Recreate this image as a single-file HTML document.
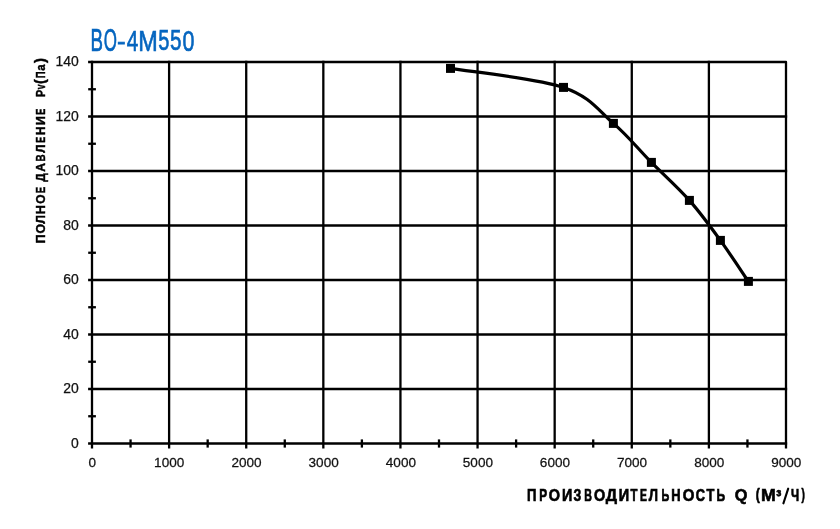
<!DOCTYPE html>
<html><head><meta charset="utf-8"><style>
html,body{margin:0;padding:0;background:#fff;width:840px;height:529px;overflow:hidden}
svg{display:block;will-change:transform}
text{font-family:"Liberation Sans",sans-serif;white-space:pre}
</style></head><body>
<svg width="840" height="529" viewBox="0 0 840 529">
<rect width="840" height="529" fill="#fff"/>
<g stroke="#000" stroke-width="2.3" stroke-linecap="butt">
<line x1="92.00" y1="60.85" x2="92.00" y2="448.60"/>
<line x1="169.11" y1="60.85" x2="169.11" y2="448.60"/>
<line x1="246.22" y1="60.85" x2="246.22" y2="448.60"/>
<line x1="323.33" y1="60.85" x2="323.33" y2="448.60"/>
<line x1="400.44" y1="60.85" x2="400.44" y2="448.60"/>
<line x1="477.56" y1="60.85" x2="477.56" y2="448.60"/>
<line x1="554.67" y1="60.85" x2="554.67" y2="448.60"/>
<line x1="631.78" y1="60.85" x2="631.78" y2="448.60"/>
<line x1="708.89" y1="60.85" x2="708.89" y2="448.60"/>
<line x1="130.56" y1="439.40" x2="130.56" y2="447.60"/>
<line x1="207.67" y1="439.40" x2="207.67" y2="447.60"/>
<line x1="284.78" y1="439.40" x2="284.78" y2="447.60"/>
<line x1="361.89" y1="439.40" x2="361.89" y2="447.60"/>
<line x1="439.00" y1="439.40" x2="439.00" y2="447.60"/>
<line x1="516.11" y1="439.40" x2="516.11" y2="447.60"/>
<line x1="593.22" y1="439.40" x2="593.22" y2="447.60"/>
<line x1="670.33" y1="439.40" x2="670.33" y2="447.60"/>
<line x1="747.44" y1="439.40" x2="747.44" y2="447.60"/>
<line x1="88.10" y1="443.50" x2="787.15" y2="443.50"/>
<line x1="88.10" y1="389.00" x2="787.15" y2="389.00"/>
<line x1="88.10" y1="334.50" x2="787.15" y2="334.50"/>
<line x1="88.10" y1="280.00" x2="787.15" y2="280.00"/>
<line x1="88.10" y1="225.50" x2="787.15" y2="225.50"/>
<line x1="88.10" y1="171.00" x2="787.15" y2="171.00"/>
<line x1="88.10" y1="116.50" x2="787.15" y2="116.50"/>
<line x1="88.20" y1="416.25" x2="95.90" y2="416.25"/>
<line x1="88.20" y1="361.75" x2="95.90" y2="361.75"/>
<line x1="88.20" y1="307.25" x2="95.90" y2="307.25"/>
<line x1="88.20" y1="252.75" x2="95.90" y2="252.75"/>
<line x1="88.20" y1="198.25" x2="95.90" y2="198.25"/>
<line x1="88.20" y1="143.75" x2="95.90" y2="143.75"/>
<line x1="88.20" y1="89.25" x2="95.90" y2="89.25"/>
<path d="M88.10 62.00 L786.00 62.00 L786.00 448.60" fill="none" stroke-linejoin="round"/>
</g>
<path d="M450.5 68.4 C469.3 71.6 536.4 78.2 563.5 87.4 C590.6 96.6 598.8 110.9 613.4 123.4 C628.0 135.9 638.7 149.6 651.4 162.4 C664.1 175.2 677.9 187.4 689.4 200.4 C700.9 213.4 710.6 226.9 720.4 240.4 C730.2 253.9 743.7 274.6 748.4 281.4" fill="none" stroke="#000" stroke-width="3.2" stroke-linejoin="round"/>
<g fill="#000">
<rect x="446.0" y="63.9" width="9" height="9"/>
<rect x="559.0" y="82.9" width="9" height="9"/>
<rect x="608.9" y="118.9" width="9" height="9"/>
<rect x="646.9" y="157.9" width="9" height="9"/>
<rect x="684.9" y="195.9" width="9" height="9"/>
<rect x="715.9" y="235.9" width="9" height="9"/>
<rect x="743.9" y="276.9" width="9" height="9"/>
</g>
<g font-size="100" fill="#111">
<text x="0" y="0" stroke="#111" stroke-width="0.25" vector-effect="non-scaling-stroke" transform="matrix(0.13950 0 0 0.13944 70.946 447.811)">0</text><text x="0" y="0" stroke="#111" stroke-width="0.25" vector-effect="non-scaling-stroke" transform="matrix(0.13950 0 0 0.13944 63.273 393.311)">20</text><text x="0" y="0" stroke="#111" stroke-width="0.25" vector-effect="non-scaling-stroke" transform="matrix(0.13950 0 0 0.13944 63.273 338.811)">40</text><text x="0" y="0" stroke="#111" stroke-width="0.25" vector-effect="non-scaling-stroke" transform="matrix(0.13950 0 0 0.13944 63.273 284.311)">60</text><text x="0" y="0" stroke="#111" stroke-width="0.25" vector-effect="non-scaling-stroke" transform="matrix(0.13950 0 0 0.13944 63.273 229.811)">80</text><text x="0" y="0" stroke="#111" stroke-width="0.25" vector-effect="non-scaling-stroke" transform="matrix(0.13950 0 0 0.13944 55.462 175.311)">100</text><text x="0" y="0" stroke="#111" stroke-width="0.25" vector-effect="non-scaling-stroke" transform="matrix(0.13950 0 0 0.13944 55.462 120.811)">120</text><text x="0" y="0" stroke="#111" stroke-width="0.25" vector-effect="non-scaling-stroke" transform="matrix(0.13950 0 0 0.13944 55.462 66.311)">140</text>
<text x="0" y="0" stroke="#111" stroke-width="0.25" vector-effect="non-scaling-stroke" transform="matrix(0.13559 0 0 0.13662 88.503 467.163)">0</text><text x="0" y="0" stroke="#111" stroke-width="0.25" vector-effect="non-scaling-stroke" transform="matrix(0.13559 0 0 0.13662 154.089 467.163)">1000</text><text x="0" y="0" stroke="#111" stroke-width="0.25" vector-effect="non-scaling-stroke" transform="matrix(0.13559 0 0 0.13662 231.403 467.163)">2000</text><text x="0" y="0" stroke="#111" stroke-width="0.25" vector-effect="non-scaling-stroke" transform="matrix(0.13559 0 0 0.13662 308.582 467.163)">3000</text><text x="0" y="0" stroke="#111" stroke-width="0.25" vector-effect="non-scaling-stroke" transform="matrix(0.13559 0 0 0.13662 385.829 467.163)">4000</text><text x="0" y="0" stroke="#111" stroke-width="0.25" vector-effect="non-scaling-stroke" transform="matrix(0.13559 0 0 0.13662 462.805 467.163)">5000</text><text x="0" y="0" stroke="#111" stroke-width="0.25" vector-effect="non-scaling-stroke" transform="matrix(0.13559 0 0 0.13662 539.848 467.163)">6000</text><text x="0" y="0" stroke="#111" stroke-width="0.25" vector-effect="non-scaling-stroke" transform="matrix(0.13559 0 0 0.13662 616.959 467.163)">7000</text><text x="0" y="0" stroke="#111" stroke-width="0.25" vector-effect="non-scaling-stroke" transform="matrix(0.13559 0 0 0.13662 694.138 467.163)">8000</text><text x="0" y="0" stroke="#111" stroke-width="0.25" vector-effect="non-scaling-stroke" transform="matrix(0.13559 0 0 0.13662 771.181 467.163)">9000</text>
</g>
<text x="0" y="0" font-size="100" font-weight="normal" fill="#0565bf" stroke="#0565bf" stroke-width="0.6" vector-effect="non-scaling-stroke" transform="matrix(0.18679 0 0 0.30725 90.506 50.600)">В</text>
<text x="0" y="0" font-size="100" font-weight="normal" fill="#0565bf" stroke="#0565bf" stroke-width="0.6" vector-effect="non-scaling-stroke" transform="matrix(0.16912 0 0 0.30704 103.754 50.593)">О</text>
<text x="0" y="0" font-size="100" font-weight="normal" fill="#0565bf" stroke="#0565bf" stroke-width="0.6" vector-effect="non-scaling-stroke" transform="matrix(0.11964 0 0 0.27143 118.000 49.671)">–</text>
<text x="0" y="0" font-size="100" font-weight="normal" fill="#0565bf" stroke="#0565bf" stroke-width="0.6" vector-effect="non-scaling-stroke" transform="matrix(0.20784 0 0 0.30294 126.684 50.903)">4</text>
<text x="0" y="0" font-size="100" font-weight="normal" fill="#0565bf" stroke="#0565bf" stroke-width="0.6" vector-effect="non-scaling-stroke" transform="matrix(0.23433 0 0 0.30290 138.225 50.600)">М</text>
<text x="0" y="0" font-size="100" font-weight="normal" fill="#0565bf" stroke="#0565bf" stroke-width="0.6" vector-effect="non-scaling-stroke" transform="matrix(0.20000 0 0 0.29429 158.300 50.306)">5</text>
<text x="0" y="0" font-size="100" font-weight="normal" fill="#0565bf" stroke="#0565bf" stroke-width="0.6" vector-effect="non-scaling-stroke" transform="matrix(0.20638 0 0 0.29429 170.074 50.306)">5</text>
<text x="0" y="0" font-size="100" font-weight="normal" fill="#0565bf" stroke="#0565bf" stroke-width="0.6" vector-effect="non-scaling-stroke" transform="matrix(0.21458 0 0 0.29437 182.442 50.606)">0</text>
<text x="0" y="0" font-size="100" font-weight="bold" fill="#000" stroke="#000" stroke-width="0.4" vector-effect="non-scaling-stroke" transform="matrix(0 -0.12759 0.12464 0 44.800 243.593)">П</text>
<text x="0" y="0" font-size="100" font-weight="bold" fill="#000" stroke="#000" stroke-width="0.4" vector-effect="non-scaling-stroke" transform="matrix(0 -0.12429 0.12464 0 44.800 233.597)">О</text>
<text x="0" y="0" font-size="100" font-weight="bold" fill="#000" stroke="#000" stroke-width="0.4" vector-effect="non-scaling-stroke" transform="matrix(0 -0.12381 0.12464 0 44.800 223.700)">Л</text>
<text x="0" y="0" font-size="100" font-weight="bold" fill="#000" stroke="#000" stroke-width="0.4" vector-effect="non-scaling-stroke" transform="matrix(0 -0.12241 0.12464 0 44.800 213.957)">Н</text>
<text x="0" y="0" font-size="100" font-weight="bold" fill="#000" stroke="#000" stroke-width="0.4" vector-effect="non-scaling-stroke" transform="matrix(0 -0.12000 0.12464 0 44.800 203.680)">О</text>
<text x="0" y="0" font-size="100" font-weight="bold" fill="#000" stroke="#000" stroke-width="0.4" vector-effect="non-scaling-stroke" transform="matrix(0 -0.09643 0.12464 0 44.800 193.275)">Е</text>
<text x="0" y="0" font-size="100" font-weight="bold" fill="#000" stroke="#000" stroke-width="0.4" vector-effect="non-scaling-stroke" transform="matrix(0 -0.12059 0.12464 0 44.800 181.721)">Д</text>
<text x="0" y="0" font-size="100" font-weight="bold" fill="#000" stroke="#000" stroke-width="0.4" vector-effect="non-scaling-stroke" transform="matrix(0 -0.12273 0.12464 0 44.800 171.868)">А</text>
<text x="0" y="0" font-size="100" font-weight="bold" fill="#000" stroke="#000" stroke-width="0.4" vector-effect="non-scaling-stroke" transform="matrix(0 -0.09836 0.12464 0 44.800 161.589)">В</text>
<text x="0" y="0" font-size="100" font-weight="bold" fill="#000" stroke="#000" stroke-width="0.4" vector-effect="non-scaling-stroke" transform="matrix(0 -0.11746 0.12464 0 44.800 152.700)">Л</text>
<text x="0" y="0" font-size="100" font-weight="bold" fill="#000" stroke="#000" stroke-width="0.4" vector-effect="non-scaling-stroke" transform="matrix(0 -0.08929 0.12464 0 44.800 142.825)">Е</text>
<text x="0" y="0" font-size="100" font-weight="bold" fill="#000" stroke="#000" stroke-width="0.4" vector-effect="non-scaling-stroke" transform="matrix(0 -0.11724 0.12464 0 44.800 135.121)">Н</text>
<text x="0" y="0" font-size="100" font-weight="bold" fill="#000" stroke="#000" stroke-width="0.4" vector-effect="non-scaling-stroke" transform="matrix(0 -0.12759 0.12464 0 44.800 125.293)">И</text>
<text x="0" y="0" font-size="100" font-weight="bold" fill="#000" stroke="#000" stroke-width="0.4" vector-effect="non-scaling-stroke" transform="matrix(0 -0.09107 0.12464 0 44.800 114.838)">Е</text>
<text x="0" y="0" font-size="100" font-weight="bold" fill="#000" stroke="#000" stroke-width="0.4" vector-effect="non-scaling-stroke" transform="matrix(0 -0.10714 0.12464 0 44.800 97.050)">P</text>
<text x="0" y="0" font-size="100" font-weight="bold" fill="#000" stroke="#000" stroke-width="0.4" vector-effect="non-scaling-stroke" transform="matrix(0 -0.08704 0.12464 0 44.800 89.187)">v</text>
<text x="0" y="0" font-size="100" font-weight="bold" fill="#000" stroke="#000" stroke-width="0.4" vector-effect="non-scaling-stroke" transform="matrix(0 -0.14286 0.13936 0 45.173 83.914)">(</text>
<text x="0" y="0" font-size="100" font-weight="bold" fill="#000" stroke="#000" stroke-width="0.4" vector-effect="non-scaling-stroke" transform="matrix(0 -0.09483 0.12464 0 44.800 78.264)">П</text>
<text x="0" y="0" font-size="100" font-weight="bold" fill="#000" stroke="#000" stroke-width="0.4" vector-effect="non-scaling-stroke" transform="matrix(0 -0.11321 0.12464 0 44.800 70.840)">а</text>
<text x="0" y="0" font-size="100" font-weight="bold" fill="#000" stroke="#000" stroke-width="0.4" vector-effect="non-scaling-stroke" transform="matrix(0 -0.15357 0.13936 0 45.173 62.900)">)</text>
<text x="0" y="0" font-size="100" font-weight="bold" fill="#000" stroke="#000" stroke-width="0.6" vector-effect="non-scaling-stroke" transform="matrix(0.13103 0 0 0.15652 526.983 500.600)">П</text>
<text x="0" y="0" font-size="100" font-weight="bold" fill="#000" stroke="#000" stroke-width="0.6" vector-effect="non-scaling-stroke" transform="matrix(0.11786 0 0 0.15652 539.175 500.600)">Р</text>
<text x="0" y="0" font-size="100" font-weight="bold" fill="#000" stroke="#000" stroke-width="0.6" vector-effect="non-scaling-stroke" transform="matrix(0.14429 0 0 0.15652 548.723 500.600)">О</text>
<text x="0" y="0" font-size="100" font-weight="bold" fill="#000" stroke="#000" stroke-width="0.6" vector-effect="non-scaling-stroke" transform="matrix(0.14310 0 0 0.15652 561.898 500.600)">И</text>
<text x="0" y="0" font-size="100" font-weight="bold" fill="#000" stroke="#000" stroke-width="0.6" vector-effect="non-scaling-stroke" transform="matrix(0.12364 0 0 0.15652 573.529 500.600)">З</text>
<text x="0" y="0" font-size="100" font-weight="bold" fill="#000" stroke="#000" stroke-width="0.6" vector-effect="non-scaling-stroke" transform="matrix(0.10656 0 0 0.15652 584.354 500.600)">В</text>
<text x="0" y="0" font-size="100" font-weight="bold" fill="#000" stroke="#000" stroke-width="0.6" vector-effect="non-scaling-stroke" transform="matrix(0.14429 0 0 0.15652 594.123 500.600)">О</text>
<text x="0" y="0" font-size="100" font-weight="bold" fill="#000" stroke="#000" stroke-width="0.6" vector-effect="non-scaling-stroke" transform="matrix(0.15882 0 0 0.15652 605.641 500.600)">Д</text>
<text x="0" y="0" font-size="100" font-weight="bold" fill="#000" stroke="#000" stroke-width="0.6" vector-effect="non-scaling-stroke" transform="matrix(0.14483 0 0 0.15652 618.686 500.600)">И</text>
<text x="0" y="0" font-size="100" font-weight="bold" fill="#000" stroke="#000" stroke-width="0.6" vector-effect="non-scaling-stroke" transform="matrix(0.11356 0 0 0.15652 630.486 500.600)">Т</text>
<text x="0" y="0" font-size="100" font-weight="bold" fill="#000" stroke="#000" stroke-width="0.6" vector-effect="non-scaling-stroke" transform="matrix(0.10357 0 0 0.15652 640.075 500.600)">Е</text>
<text x="0" y="0" font-size="100" font-weight="bold" fill="#000" stroke="#000" stroke-width="0.6" vector-effect="non-scaling-stroke" transform="matrix(0.13175 0 0 0.15652 648.700 500.600)">Л</text>
<text x="0" y="0" font-size="100" font-weight="bold" fill="#000" stroke="#000" stroke-width="0.6" vector-effect="non-scaling-stroke" transform="matrix(0.10820 0 0 0.15652 661.443 500.600)">Ь</text>
<text x="0" y="0" font-size="100" font-weight="bold" fill="#000" stroke="#000" stroke-width="0.6" vector-effect="non-scaling-stroke" transform="matrix(0.12931 0 0 0.15652 671.295 500.600)">Н</text>
<text x="0" y="0" font-size="100" font-weight="bold" fill="#000" stroke="#000" stroke-width="0.6" vector-effect="non-scaling-stroke" transform="matrix(0.15000 0 0 0.15652 682.800 500.600)">О</text>
<text x="0" y="0" font-size="100" font-weight="bold" fill="#000" stroke="#000" stroke-width="0.6" vector-effect="non-scaling-stroke" transform="matrix(0.12769 0 0 0.15652 695.789 500.600)">С</text>
<text x="0" y="0" font-size="100" font-weight="bold" fill="#000" stroke="#000" stroke-width="0.6" vector-effect="non-scaling-stroke" transform="matrix(0.12881 0 0 0.15652 706.571 500.600)">Т</text>
<text x="0" y="0" font-size="100" font-weight="bold" fill="#000" stroke="#000" stroke-width="0.6" vector-effect="non-scaling-stroke" transform="matrix(0.11967 0 0 0.15652 716.562 500.600)">Ь</text>
<text x="0" y="0" font-size="100" font-weight="bold" fill="#000" stroke="#000" stroke-width="0.6" vector-effect="non-scaling-stroke" transform="matrix(0.16286 0 0 0.15652 734.749 500.600)">Q</text>
<text x="0" y="0" font-size="100" font-weight="bold" fill="#000" stroke="#000" stroke-width="0.6" vector-effect="non-scaling-stroke" transform="matrix(0.12143 0 0 0.15745 755.693 500.094)">(</text>
<text x="0" y="0" font-size="100" font-weight="bold" fill="#000" stroke="#000" stroke-width="0.6" vector-effect="non-scaling-stroke" transform="matrix(0.17714 0 0 0.15652 761.060 500.600)">М</text>
<text x="0" y="0" font-size="100" font-weight="bold" fill="#000" stroke="#000" stroke-width="0.6" vector-effect="non-scaling-stroke" transform="matrix(0.15172 0 0 0.17778 776.297 501.567)">³</text>
<text x="0" y="0" font-size="100" font-weight="bold" fill="#000" stroke="#000" stroke-width="0.6" vector-effect="non-scaling-stroke" transform="matrix(0.11525 0 0 0.15652 791.024 500.600)">Ч</text>
<text x="0" y="0" font-size="100" font-weight="bold" fill="#000" stroke="#000" stroke-width="0.6" vector-effect="non-scaling-stroke" transform="matrix(0.10000 0 0 0.15745 801.600 500.094)">)</text>
<line x1="783.4" y1="503.3" x2="788.2" y2="488.7" stroke="#000" stroke-width="2.1" stroke-linecap="round"/>
</svg>
</body></html>
